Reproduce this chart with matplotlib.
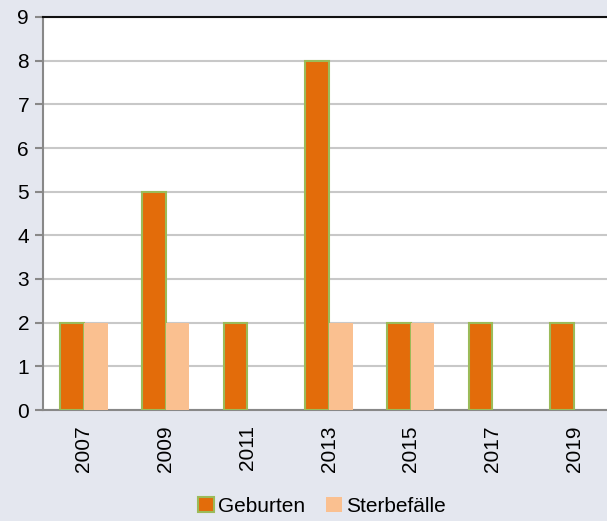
import numpy as np
import matplotlib
matplotlib.use('Agg')
import matplotlib.pyplot as plt

plt.rcParams['font.family'] = ['Liberation Sans', 'DejaVu Sans']

years = ['2007', '2009', '2011', '2013', '2015', '2017', '2019']
geburten = [2, 5, 2, 8, 2, 2, 2]
sterbefaelle = [2, 2, 0, 2, 2, 0, 0]

bg = '#e4e7ef'
fig = plt.figure(figsize=(6.07, 5.21), dpi=100, facecolor=bg)
ax = fig.add_axes([43 / 607, 1 - 410 / 521, 572 / 607, 393 / 521])

x = np.arange(len(years))
w = 0.29
ax.bar(x - w / 2, geburten, w, color='#e36c0a', edgecolor='#9bbb59',
       linewidth=1.5, label='Geburten', zorder=3)
ax.bar(x + w / 2, sterbefaelle, w, color='#fac090', edgecolor='none',
       label='Sterbef\u00e4lle', zorder=3)

ax.set_xlim(-0.5, len(years) - 0.5)
ax.set_ylim(0, 9)
ax.set_yticks(range(10))
ax.set_xticks(x)
ax.set_xticklabels(years, rotation=90)
ax.tick_params(axis='x', length=0, pad=11, labelsize=15)
ax.tick_params(axis='y', length=6, width=1.5, color='#888888', labelsize=15, pad=4)
ax.grid(axis='y', color='#c8c8c8', linewidth=1.5, zorder=0)

ax.spines['right'].set_visible(False)
ax.spines['top'].set_color('#111111')
ax.spines['top'].set_linewidth(1.5)
ax.spines['left'].set_color('#888888')
ax.spines['left'].set_linewidth(1.5)
ax.spines['bottom'].set_color('#888888')
ax.spines['bottom'].set_linewidth(1.5)

fig.legend(loc='center', bbox_to_anchor=(322 / 607, 1 - 506 / 521), ncol=2,
           frameon=False, fontsize=15, handlelength=0.75, handleheight=0.75,
           handletextpad=0.2, columnspacing=1.0)

fig.savefig('out.png', dpi=100, facecolor=bg)
